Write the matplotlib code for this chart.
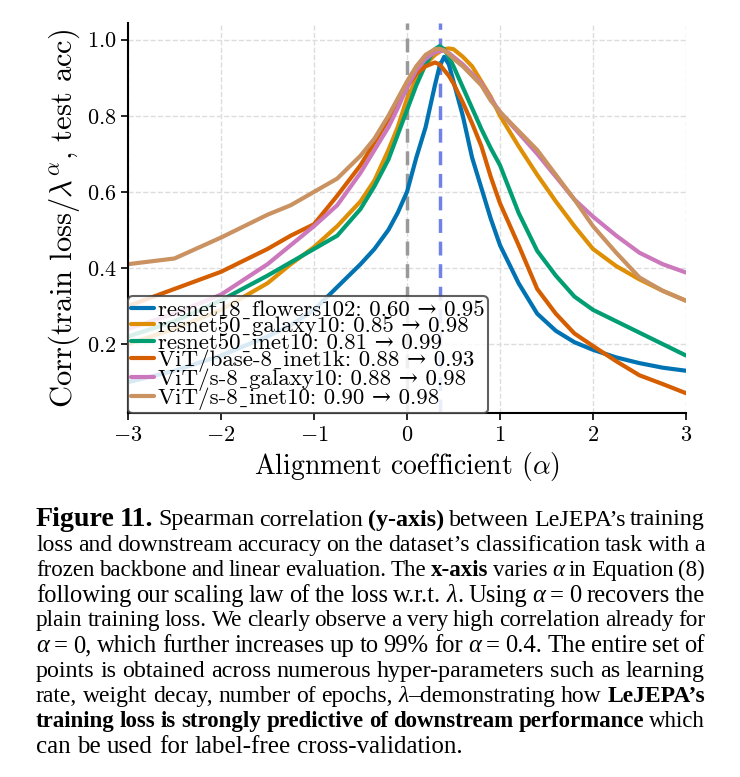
import re
import numpy as np
import matplotlib
matplotlib.use("Agg")
import matplotlib.pyplot as plt
from matplotlib.font_manager import findfont, FontProperties
from matplotlib.ft2font import FT2Font

plt.rcParams['mathtext.fontset'] = 'cm'
plt.rcParams['axes.formatter.use_mathtext'] = True
plt.rcParams['font.family'] = ['cmr10', 'DejaVu Serif']

# alignment coefficient grid
alpha = [-3, -2.5, -2, -1.5, -1.25, -1, -0.75, -0.5, -0.35, -0.2, -0.1, 0, 0.1, 0.2, 0.3,
         0.35, 0.4, 0.45, 0.5, 0.6, 0.7, 0.8, 0.9, 1.0, 1.2, 1.4, 1.6, 1.8, 2.0, 2.25, 2.5,
         2.75, 3.0]

resnet18_flowers102 = [0.10, 0.13, 0.17, 0.22, 0.25, 0.29, 0.35, 0.41, 0.45, 0.50, 0.545, 0.60,
                       0.69, 0.77, 0.88, 0.93, 0.955, 0.935, 0.89, 0.80, 0.69, 0.61, 0.53, 0.46,
                       0.36, 0.28, 0.235, 0.205, 0.185, 0.165, 0.15, 0.138, 0.13]
resnet50_galaxy10 = [0.20, 0.24, 0.29, 0.36, 0.41, 0.455, 0.51, 0.575, 0.63, 0.71, 0.77, 0.845,
                     0.895, 0.935, 0.96, 0.968, 0.975, 0.977, 0.975, 0.955, 0.93, 0.89, 0.85,
                     0.80, 0.72, 0.645, 0.575, 0.51, 0.45, 0.405, 0.37, 0.34, 0.314]
resnet50_inet10 = [0.22, 0.26, 0.315, 0.38, 0.415, 0.45, 0.485, 0.555, 0.615, 0.685, 0.75, 0.815,
                   0.88, 0.935, 0.975, 0.983, 0.975, 0.955, 0.93, 0.875, 0.82, 0.765, 0.715,
                   0.67, 0.545, 0.445, 0.38, 0.325, 0.29, 0.26, 0.23, 0.20, 0.17]
vit_base_inet1k = [0.30, 0.345, 0.39, 0.45, 0.485, 0.515, 0.59, 0.67, 0.73, 0.79, 0.835, 0.875,
                   0.91, 0.93, 0.94, 0.935, 0.92, 0.905, 0.885, 0.835, 0.78, 0.72, 0.64, 0.57,
                   0.46, 0.345, 0.28, 0.228, 0.195, 0.155, 0.118, 0.095, 0.071]
vit_s_galaxy10 = [0.24, 0.28, 0.33, 0.41, 0.46, 0.51, 0.565, 0.65, 0.71, 0.77, 0.82, 0.875,
                  0.92, 0.95, 0.967, 0.97, 0.971, 0.965, 0.955, 0.935, 0.91, 0.885, 0.845,
                  0.81, 0.755, 0.70, 0.64, 0.58, 0.535, 0.485, 0.44, 0.41, 0.388]
vit_s_inet10 = [0.41, 0.425, 0.48, 0.54, 0.565, 0.60, 0.635, 0.695, 0.74, 0.80, 0.845, 0.89,
                0.93, 0.96, 0.975, 0.976, 0.972, 0.962, 0.95, 0.93, 0.905, 0.88, 0.84, 0.81,
                0.76, 0.71, 0.645, 0.58, 0.51, 0.44, 0.375, 0.34, 0.314]

series = [resnet18_flowers102, resnet50_galaxy10, resnet50_inet10,
          vit_base_inet1k, vit_s_galaxy10, vit_s_inet10]
labels = ['resnet18_flowers102: 0.60 → 0.95',
          'resnet50_galaxy10: 0.85 → 0.98',
          'resnet50_inet10: 0.81 → 0.99',
          'ViT/base-8_inet1k: 0.88 → 0.93',
          'ViT/s-8_galaxy10: 0.88 → 0.98',
          'ViT/s-8_inet10: 0.90 → 0.98']
colors = ['#0173B2', '#DE8F05', '#029E73', '#D55E00', '#CC78BC', '#CA9161']

best_alpha = 0.36

caption = [
    "##Figure 11.## Spearman correlation **(y-axis)** between LeJEPA’s training",
    "loss and downstream accuracy on the dataset’s classification task with a",
    "frozen backbone and linear evaluation. The **x-axis** varies *α* in Equation (8)",
    "following our scaling law of the loss w.r.t. *λ*. Using *α* = 0 recovers the",
    "plain training loss. We clearly observe a very high correlation already for",
    "*α* = 0, which further increases up to 99% for *α* = 0.4. The entire set of",
    "points is obtained across numerous hyper-parameters such as learning",
    "rate, weight decay, number of epochs, *λ*–demonstrating how **LeJEPA’s**",
    "**training loss is strongly predictive of downstream performance** which",
    "can be used for label-free cross-validation.",
]

# cmr10 puts a dot accent where '_' should be, so use a low line it lacks
# and let the fallback font draw it
serif_map = FT2Font(findfont(FontProperties(family='DejaVu Serif'))).get_charmap()
low_line = 'ˍ' if 0x2CD in serif_map else '_'
labels = [lab.replace('_', low_line) for lab in labels]

fig = plt.figure(figsize=(7.4, 7.77), dpi=100)
ax = fig.add_axes([0.173, 0.468, 0.754, 0.503])

for y, lab, c in zip(series, labels, colors):
    ax.plot(alpha, y, color=c, lw=3, label=lab, solid_capstyle='round',
            solid_joinstyle='round')

ax.axvline(0, color='#999999', lw=2.5, ls=(0, (4, 2.5)), zorder=1)
ax.axvline(best_alpha, color='#7082e6', lw=2.5, ls=(0, (4, 2.5)), zorder=1)

ax.set_xlim(-3, 3)
ax.set_ylim(0.018, 1.045)
ax.set_xticks([-3, -2, -1, 0, 1, 2, 3])
ax.set_yticks([0.2, 0.4, 0.6, 0.8, 1.0])
ax.grid(True, color='#dddddd', ls='--', lw=1)
ax.set_axisbelow(True)
for s in ['top', 'right']:
    ax.spines[s].set_visible(False)
for s in ['left', 'bottom']:
    ax.spines[s].set_linewidth(1.5)
    ax.spines[s].set_color('black')
ax.tick_params(labelsize=16, width=1.2, length=5, direction='out')
ax.set_xlabel(r'Alignment coefficient ($\alpha$)', fontsize=20, labelpad=4)
ax.set_ylabel(r'Corr(train loss/$\lambda^{\alpha}$, test acc)', fontsize=22, labelpad=3)

leg = ax.legend(loc='lower left', fontsize=16.5, borderaxespad=0, handlelength=1.0,
                handletextpad=0.15, labelspacing=-0.15, borderpad=0.15, fancybox=True,
                framealpha=0.85, edgecolor='#444444')
leg.get_frame().set_linewidth(1.5)

# caption, drawn word by word and justified
renderer = fig.canvas.get_renderer()
W, H = 740, 777
left_px, right_px = 36, 705
top_px, line_px = 520, 25.2
base_size = 18


def style(st, size):
    if st == 'head':
        return dict(fontsize=size * 1.17, fontweight='bold')
    if st == 'bold':
        return dict(fontsize=size, fontweight='bold')
    if st == 'italic':
        return dict(fontsize=size, fontstyle='italic')
    return dict(fontsize=size)


def parse(line):
    words = [[]]
    for m in re.finditer(r'##(.+?)##|\*\*(.+?)\*\*|\*(.+?)\*|([^*#]+)', line):
        if m.group(1) is not None:
            txt, st = m.group(1), 'head'
        elif m.group(2) is not None:
            txt, st = m.group(2), 'bold'
        elif m.group(3) is not None:
            txt, st = m.group(3), 'italic'
        else:
            txt, st = m.group(4), 'normal'
        pieces = txt.split(' ')
        for i, p in enumerate(pieces):
            if i > 0:
                words.append([])
            if p:
                words[-1].append((p, st))
    return [w for w in words if w]


def part_width(s, st, size):
    t = fig.text(0, 0, s, family='Liberation Serif', **style(st, size))
    w = t.get_window_extent(renderer).width
    t.remove()
    return w


for i, line in enumerate(caption):
    words = parse(line)
    size = base_size
    while True:
        widths = [sum(part_width(s, st, size) for s, st in w) for w in words]
        space = size * 0.25 * 100 / 72
        natural = sum(widths) + space * 0.8 * (len(words) - 1)
        if natural <= right_px - left_px or size < 10:
            break
        size -= 0.25
    if i < len(caption) - 1:
        gap = (right_px - left_px - sum(widths)) / (len(words) - 1)
    else:
        gap = space
    x = left_px
    y = top_px + i * line_px
    for w, ww in zip(words, widths):
        xx = x
        for s, st in w:
            fig.text(xx / W, 1 - y / H, s, family='Liberation Serif', va='center',
                     ha='left', **style(st, size))
            xx += part_width(s, st, size)
        x += ww + gap

fig.savefig('out.png', dpi=100)
